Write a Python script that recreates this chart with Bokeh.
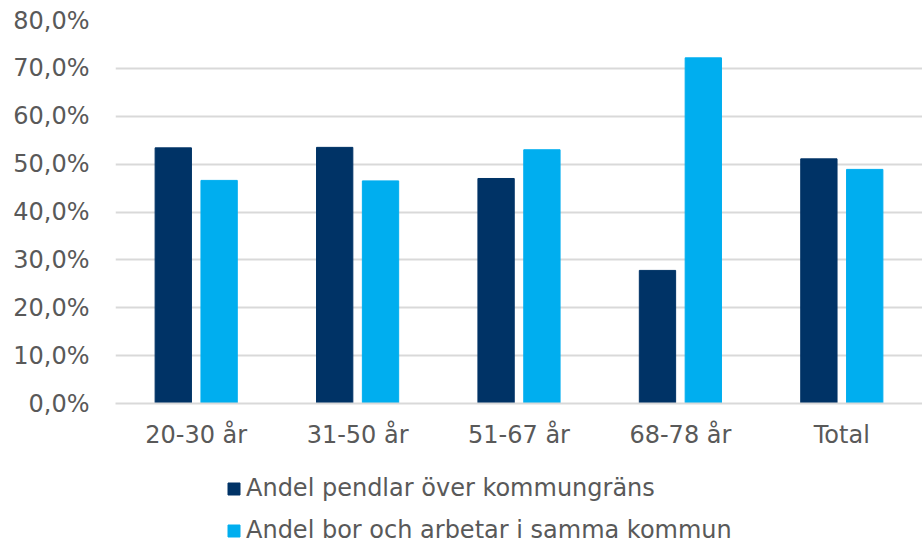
from bokeh.plotting import figure
from bokeh.layouts import column
from bokeh.models import FactorRange, Range1d, ColumnDataSource, Legend, LegendItem, FixedTicker
from bokeh.transform import dodge
from bokeh.embed import file_html
from bokeh.resources import INLINE

categories = ["20-30 år", "31-50 år", "51-67 år", "68-78 år", "Total"]
pendlar = [53.4, 53.5, 47.0, 27.8, 51.1]
samma = [46.6, 46.5, 53.0, 72.2, 48.9]
series_names = ["Andel pendlar över kommungräns", "Andel bor och arbetar i samma kommun"]
y_ticks = [0, 10, 20, 30, 40, 50, 60, 70, 80]
y_tick_labels = ["0,0%", "10,0%", "20,0%", "30,0%", "40,0%", "50,0%", "60,0%", "70,0%", "80,0%"]

FONT = "DejaVu Sans"
TXT = "#595959"
GRID = "#d9d9d9"
DARK = "#003366"
LIGHT = "#00AEEF"
COLORS = [DARK, LIGHT]

src = ColumnDataSource(dict(cat=categories, pendlar=pendlar, samma=samma))

p = figure(width=922, height=455, output_backend="svg", toolbar_location=None,
           x_range=FactorRange(*categories, range_padding=0),
           y_range=Range1d(0, 80),
           min_border_left=115, min_border_right=0, min_border_top=20, min_border_bottom=52)
p.outline_line_color = None
p.background_fill_color = "white"
p.border_fill_color = "white"

p.vbar(x=dodge("cat", -0.142, range=p.x_range), top="pendlar", width=0.225, source=src,
       fill_color=DARK, line_color=DARK)
p.vbar(x=dodge("cat", 0.142, range=p.x_range), top="samma", width=0.225, source=src,
       fill_color=LIGHT, line_color=LIGHT)

# y axis
p.yaxis.ticker = FixedTicker(ticks=y_ticks)
p.yaxis.major_label_overrides = {t: l for t, l in zip(y_ticks, y_tick_labels)}
p.yaxis.axis_line_color = None
p.yaxis.major_tick_line_color = None
p.yaxis.minor_tick_line_color = None
p.yaxis.major_label_standoff = 20
p.yaxis.major_label_text_font = FONT
p.yaxis.major_label_text_font_size = "24px"
p.yaxis.major_label_text_color = TXT

# x axis
p.xaxis.axis_line_color = GRID
p.xaxis.axis_line_width = 2
p.xaxis.major_tick_line_color = None
p.xaxis.minor_tick_line_color = None
p.xaxis.major_label_standoff = 11
p.xaxis.major_label_text_font = FONT
p.xaxis.major_label_text_font_size = "24px"
p.xaxis.major_label_text_color = TXT

p.xgrid.grid_line_color = None
p.ygrid.grid_line_color = GRID
p.ygrid.grid_line_width = 2

# legend strip (its frame is aligned with the main frame by the column layout)
pl = figure(width=922, height=89, output_backend="svg", toolbar_location=None,
            x_range=Range1d(0, 1), y_range=Range1d(0, 1),
            x_axis_type=None, y_axis_type=None,
            min_border_left=0, min_border_right=0, min_border_top=0, min_border_bottom=0)
pl.outline_line_color = None
pl.grid.visible = False
items = []
for name, col in zip(series_names, COLORS):
    # legend proxy: a zero-height bar outside the visible range
    r = pl.vbar(x=[-5], top=[0], width=0.1, fill_color=col, line_color=col)
    items.append(LegendItem(label=name, renderers=[r]))

legend = Legend(items=items, orientation="vertical", location=(111, 0),
                glyph_width=15, glyph_height=15, label_standoff=5,
                label_text_font=FONT, label_text_font_size="24px", label_text_color=TXT,
                label_height=28, spacing=14, padding=0, margin=0,
                border_line_color=None, background_fill_alpha=0)
pl.add_layout(legend, "center")

layout = column(p, pl, spacing=0)
open("out.html", "w").write(file_html(layout, INLINE))
